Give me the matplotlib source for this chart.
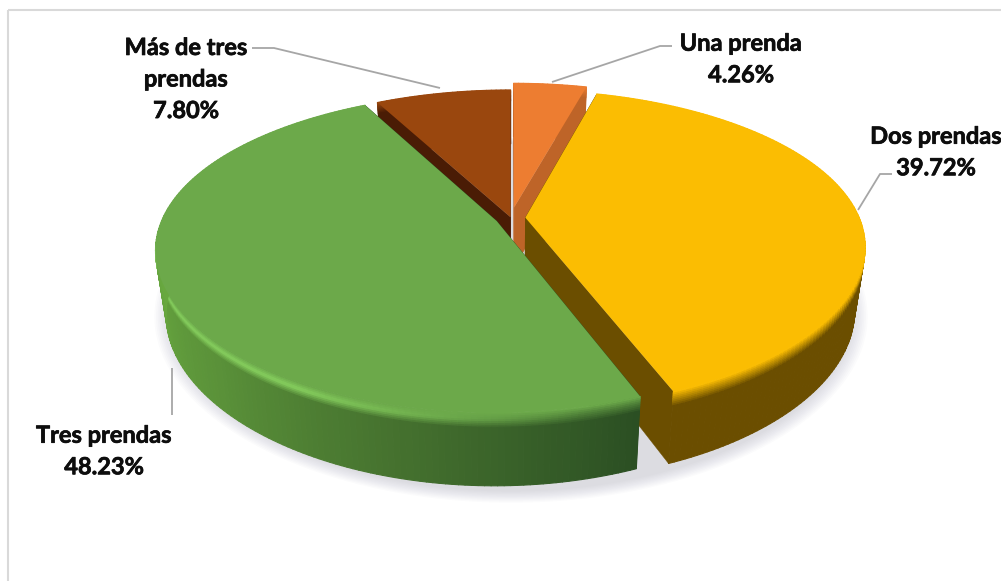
import matplotlib

matplotlib.use("agg")
import matplotlib.patheffects as pe
import matplotlib.pyplot as plt
import numpy as np
from matplotlib.collections import PolyCollection
from matplotlib.patches import Polygon, Rectangle

# chart values, clockwise from the top
labels = ["Una prenda", "Dos prendas", "Tres prendas", "Más de tres\nprendas"]
values = [4.26, 39.72, 48.23, 7.80]
explode = [0.07, 0.043, 0.047, 0.005]

top_colors = ["#ED7D31", "#FBBD02", "#6CA94A", "#9A470E"]
cut_colors = ["#BE6428", "#6B4E00", "#2B4F23", "#4A1C05"]
# wall colour along each slice's arc (start of arc to end of arc)
wall_stops = [
    ["#BE6428", "#BE6428"],
    ["#6B4E00", "#6B4E00"],
    ["#2B4F23", "#44702E", "#5A9139", "#68A83F", "#6BAC42", "#6BAC42"],
    ["#4A1C05", "#4A1C05"],
]
rim_colors = [None, None, "#86CF5E", None]
draw_order = [3, 0, 1, 2]

# projection of the tilted disc onto the picture, in pixels
CX, CY = 511, 218
RX = 334
DEPTH = 62
BEVEL = 0.2


def project(u, v, z=0.0):
    u, v = np.asarray(u, float), np.asarray(v, float)
    wx = 1 + 0.1835 * v + 0.0215 * v**2
    dy = -(154.6 * v - 31.25 * v**2 + 4.2 * v**3)
    x = CX + RX * u / wx * (1 - 0.03 * z)
    y = CY + dy + DEPTH * z / (1 + 0.15 * v)
    return x, y


def hex_rgb(c):
    return np.array(matplotlib.colors.to_rgb(c))


def mix(a, b, t):
    return a + (b - a) * t


fig = plt.figure(figsize=(10.01, 5.81), dpi=100)
ax = fig.add_axes([0, 0, 1, 1])
ax.set_xlim(0, 1001)
ax.set_ylim(581, 0)
ax.axis("off")
plt.rcParams["font.family"] = ["Lato", "DejaVu Sans"]

ax.add_patch(Rectangle((8, 10), 1100, 700, fill=False, ec="#D9D9D9", lw=1.5, zorder=1))

edges = np.concatenate([[0], np.cumsum(values)]) / np.sum(values) * 2 * np.pi

# soft shadow under the whole pie
ang = np.linspace(0, 2 * np.pi, 240)
for i in range(10):
    grow = 1.03 + 0.005 * (10 - i)
    sx, sy = project(grow * np.sin(ang), grow * np.cos(ang), 1.0)
    ax.add_patch(Polygon(np.c_[sx, sy + 2], fc="#8C8CA0", ec="none", alpha=0.03, zorder=2))

zo = 3
for idx in draw_order:
    t0, t1 = edges[idx], edges[idx + 1]
    mid = (t0 + t1) / 2
    ou, ov = explode[idx] * np.sin(mid), explode[idx] * np.cos(mid)
    arc = np.linspace(t0, t1, max(int((t1 - t0) * 60), 6))
    au, av = ou + np.sin(arc), ov + np.cos(arc)

    # the two straight cut faces
    for eu, ev in [(au[0], av[0]), (au[-1], av[-1])]:
        p = [project(ou, ov, 0), project(eu, ev, 0), project(eu, ev, 1), project(ou, ov, 1)]
        p = [(float(a), float(b)) for a, b in p]
        ax.add_patch(Polygon(p, fc=cut_colors[idx], ec=cut_colors[idx], lw=0.3, zorder=zo))
        zo += 1

    # outer wall, split in bands so the bevel and the shading can change colour
    stops = np.array([hex_rgb(c) for c in wall_stops[idx]])
    pos = np.linspace(0, 1, len(stops))
    top = hex_rgb(top_colors[idx])
    zs = np.r_[np.linspace(0, BEVEL, 9), 1.0]
    polys, cols = [], []
    for k in range(len(arc) - 1):
        f = (k + 0.5) / (len(arc) - 1)
        wall = np.array([np.interp(f, pos, stops[:, c]) for c in range(3)])
        for j in range(len(zs) - 1):
            x1, y1 = project(au[k], av[k], zs[j])
            x2, y2 = project(au[k + 1], av[k + 1], zs[j])
            x3, y3 = project(au[k + 1], av[k + 1], zs[j + 1])
            x4, y4 = project(au[k], av[k], zs[j + 1])
            polys.append([(x1, y1), (x2, y2), (x3, y3), (x4, y4)])
            b = min(zs[j] / BEVEL, 1.0)
            if rim_colors[idx] is not None:
                # the light rim fades out towards the cut at the front
                g = np.clip((f - 0.05) / 0.25, 0, 1)
                rim = mix(mix(top, wall, 0.5), hex_rgb(rim_colors[idx]), g)
                if b < 0.45:
                    col = mix(top, rim, b / 0.45)
                else:
                    col = mix(rim, wall, (b - 0.45) / 0.55)
            else:
                col = mix(top, wall, b)
            cols.append(col)
    ax.add_collection(PolyCollection(polys, facecolors=cols, edgecolors=cols, linewidths=0.8, zorder=zo))
    zo += 1

    # top face
    tx, ty = project(au, av, 0)
    ox, oy = project(ou, ov, 0)
    ax.add_patch(Polygon(np.r_[[[ox, oy]], np.c_[tx, ty]], fc=top_colors[idx], ec="none", zorder=zo))
    zo += 1

# leader lines
leaders = [
    ([552, 660, 672], [82, 46, 46]),
    ([858, 880, 892], [210, 174, 174]),
    ([172, 172], [368, 415]),
    ([252, 274, 440], [48, 48, 88]),
]
for lx, ly in leaders:
    ax.plot(lx, ly, color="#A6A6A6", lw=1.3, zorder=zo, solid_capstyle="butt")

# data labels
label_pos = [(741, 59), (936, 152), (104, 451), (186, 79)]
for name, val, (lx, ly) in zip(labels, values, label_pos):
    ax.text(lx, ly, f"{name}\n{val:.2f}%", ha="center", va="center", fontsize=17,
            fontweight="bold", color="#0D0D0D", linespacing=1.45, zorder=zo + 1,
            path_effects=[pe.withStroke(linewidth=0.5, foreground="#0D0D0D")])

fig.savefig("out.png", dpi=100, facecolor="white")
